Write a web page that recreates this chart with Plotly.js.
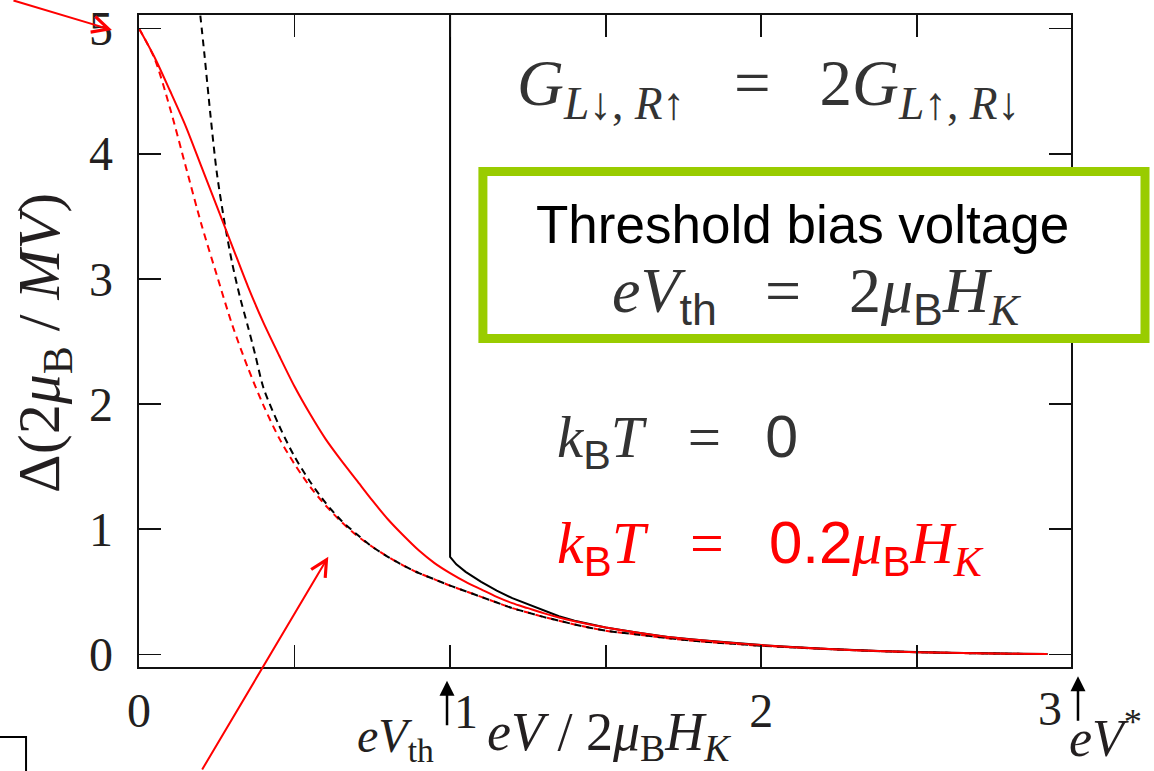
<!DOCTYPE html>
<html><head><meta charset="utf-8">
<script src="https://cdn.plot.ly/plotly-3.0.1.min.js"></script>
<style>html,body{margin:0;padding:0;background:#fff}#chart{width:1154px;height:771px}</style>
</head><body><div id="chart"></div>
<script>
// ---- data ----
const xRedSolid = [0, 0.05, 0.1, 0.15, 0.2, 0.25, 0.3, 0.35, 0.4, 0.45, 0.5, 0.55, 0.6, 0.65, 0.7, 0.75, 0.8, 0.85, 0.9, 0.95, 1.0, 1.05, 1.1, 1.15, 1.2, 1.25, 1.3, 1.35, 1.4, 1.5, 1.6, 1.7, 1.8, 1.9, 2.0, 2.2, 2.4, 2.6, 2.8, 2.92];
const yRedSolid = [5.0, 4.77, 4.50, 4.22, 3.90, 3.58, 3.26, 2.94, 2.65, 2.39, 2.14, 1.92, 1.72, 1.55, 1.39, 1.23, 1.08, 0.95, 0.83, 0.73, 0.65, 0.58, 0.52, 0.46, 0.41, 0.37, 0.33, 0.295, 0.265, 0.215, 0.175, 0.14, 0.115, 0.094, 0.075, 0.045, 0.025, 0.013, 0.006, 0.003];

const xRedDash = [0, 0.05, 0.1, 0.15, 0.2, 0.25, 0.3, 0.35, 0.4, 0.45, 0.5, 0.55, 0.6, 0.65, 0.7, 0.75, 0.8, 0.85, 0.9, 0.95, 1.0, 1.05, 1.1, 1.15, 1.2, 1.25, 1.3, 1.35, 1.4, 1.5, 1.6, 1.7, 1.8, 1.9, 2.0, 2.2, 2.4, 2.6, 2.8, 2.92];
const yRedDash = [5.0, 4.76, 4.36, 3.90, 3.44, 3.03, 2.63, 2.29, 1.99, 1.73, 1.52, 1.34, 1.19, 1.06, 0.95, 0.86, 0.78, 0.71, 0.65, 0.60, 0.55, 0.505, 0.46, 0.415, 0.37, 0.335, 0.30, 0.27, 0.24, 0.19, 0.16, 0.13, 0.105, 0.087, 0.07, 0.045, 0.025, 0.013, 0.006, 0.003];

const xBlackDash = [0.193, 0.21, 0.23, 0.25, 0.275, 0.3, 0.325, 0.35, 0.375, 0.4, 0.45, 0.5, 0.55, 0.6, 0.65, 0.7, 0.75, 0.8, 0.85, 0.9, 0.95, 1.0, 1.05, 1.1, 1.15, 1.2, 1.25, 1.3, 1.35, 1.4, 1.5, 1.6, 1.7, 1.8, 1.9, 2.0, 2.2, 2.4, 2.6, 2.8, 2.92];
const yBlackDash = [5.2, 4.8, 4.3, 3.85, 3.45, 3.12, 2.85, 2.62, 2.38, 2.13, 1.83, 1.58, 1.38, 1.21, 1.07, 0.96, 0.86, 0.78, 0.71, 0.65, 0.60, 0.55, 0.505, 0.46, 0.415, 0.37, 0.335, 0.30, 0.27, 0.24, 0.19, 0.16, 0.13, 0.105, 0.087, 0.07, 0.045, 0.025, 0.013, 0.006, 0.003];

const xBlackSolid = [1.0, 1.0, 1.02, 1.05, 1.1, 1.15, 1.2, 1.25, 1.3, 1.35, 1.4, 1.5, 1.6, 1.7, 1.8, 1.9, 2.0, 2.2, 2.4, 2.6, 2.8, 2.92];
const yBlackSolid = [5.3, 0.78, 0.72, 0.66, 0.58, 0.51, 0.45, 0.40, 0.35, 0.305, 0.27, 0.215, 0.175, 0.14, 0.115, 0.094, 0.075, 0.045, 0.025, 0.013, 0.006, 0.003];

const yTickVals = [0, 1, 2, 3, 4, 5];
const yTickText = ['0', '1', '2', '3', '4', '5'];
const xTickVals = [0, 0.5, 1, 1.5, 2, 2.5];
const xTickText = ['0', '', '', '', '2', ''];

// ---- styles ----
const SERIF = "'Liberation Serif', 'Times New Roman', serif";
const SANS = "'Liberation Sans', Arial, sans-serif";
const INK = '#231f20';
const MATH = '#333333';
const sf = (t) => `<span style="font-family:${SANS}">${t}</span>`;
const SP = '\u00a0';
const EQ = SP + SP + SP + '=' + SP + SP + SP;

const traces = [
  {x: xRedDash, y: yRedDash, mode: 'lines', line: {color: '#ff0000', width: 2, dash: '7px,5px', shape: 'spline', smoothing: 0.8}, name: 'kBT=0.2 (dashed)', hoverinfo: 'skip'},
  {x: xBlackDash, y: yBlackDash, mode: 'lines', line: {color: '#000000', width: 2, dash: '7px,5px', shape: 'spline', smoothing: 0.8}, name: 'kBT=0 (dashed)', hoverinfo: 'skip'},
  {x: xBlackSolid, y: yBlackSolid, mode: 'lines', line: {color: '#000000', width: 2}, name: 'kBT=0', hoverinfo: 'skip'},
  {x: xRedSolid, y: yRedSolid, mode: 'lines', line: {color: '#ff0000', width: 2, shape: 'spline', smoothing: 0.8}, name: 'kBT=0.2', hoverinfo: 'skip'}
];

function ann(o) { return Object.assign({xref: 'paper', yref: 'paper', xanchor: 'center', yanchor: 'middle', showarrow: false}, o); }

const layout = {
  width: 1154, height: 771,
  margin: {l: 139, r: 83, t: 15, b: 104},
  paper_bgcolor: '#ffffff', plot_bgcolor: '#ffffff',
  showlegend: false,
  xaxis: {
    range: [0, 2.996], tickmode: 'array', tickvals: xTickVals, ticktext: xTickText,
    ticks: 'inside', ticklen: 22, tickwidth: 1.8, tickcolor: '#111',
    showline: true, linewidth: 2.4, linecolor: '#111', mirror: 'ticks',
    showgrid: false, zeroline: false, ticklabelstandoff: 0,
    tickfont: {family: SERIF, size: 48, color: INK}
  },
  yaxis: {
    range: [-0.1, 5.107], tickmode: 'array', tickvals: yTickVals, ticktext: yTickText,
    ticks: 'inside', ticklen: 22, tickwidth: 1.8, tickcolor: '#111',
    showline: true, linewidth: 2.4, linecolor: '#111', mirror: 'ticks',
    showgrid: false, zeroline: false, ticklabelstandoff: 14,
    tickfont: {family: SERIF, size: 48, color: INK}
  },
  shapes: [
    {type: 'rect', xref: 'paper', yref: 'paper', x0: 0.369, x1: 1.0794, y0: 0.504, y1: 0.760,
     line: {color: '#99cc00', width: 9}, fillcolor: '#ffffff', layer: 'above'},
    {type: 'path', xref: 'paper', yref: 'paper', path: 'M -0.16,-0.1074 L -0.1212,-0.1074 L -0.1212,-0.17',
     line: {color: '#000', width: 2}}
  ],
  annotations: [
    // axis titles
    ann({x: -0.102, y: 0.497, textangle: -90,
     text: 'Δ(2<i>μ</i><sub>B</sub> / <i>MV</i>)', font: {family: SERIF, size: 60, color: INK}}),
    ann({x: 0.504, y: -0.105,
     text: '<i>eV</i> / 2<i>μ</i><sub>B</sub><i>H</i><sub><i>K</i></sub>', font: {family: SERIF, size: 54, color: INK}}),
    // tick labels beside the arrows
    ann({x: 0.3509, y: -0.0675, text: '1', font: {family: SERIF, size: 48, color: INK}}),
    ann({x: 0.9775, y: -0.063, text: '3', font: {family: SERIF, size: 48, color: INK}}),
    ann({x: 0.3305, y: -0.021, ax: 0, ay: 46, text: '', showarrow: true,
     arrowhead: 2, arrowsize: 1.2, arrowwidth: 2.5, arrowcolor: '#000', standoff: 0}),
    ann({x: 1.0075, y: -0.014, ax: 0, ay: 46, text: '', showarrow: true,
     arrowhead: 2, arrowsize: 1.2, arrowwidth: 2.5, arrowcolor: '#000', standoff: 0}),
    ann({x: 0.2747, y: -0.111, text: '<i>eV</i><sub>th</sub>', font: {family: SERIF, size: 48, color: INK}}),
    ann({x: 1.0365, y: -0.104, text: '<i>eV</i><sup>*</sup>', font: {family: SERIF, size: 52, color: INK}}),
    // in-plot texts
    ann({x: 0.4034, y: 0.888, xanchor: 'left',
     text: '<i>G</i><sub><i>L</i>↓,' + SP + '<i>R</i>↑</sub>' + EQ + '2<i>G</i><sub><i>L</i>↑,' + SP + '<i>R</i>↓</sub>', font: {family: SERIF, size: 65, color: MATH}}),
    ann({x: 0.7124, y: 0.679,
     text: 'Threshold bias voltage', font: {family: SANS, size: 53, color: '#000'}}),
    ann({x: 0.5054, y: 0.5706, xanchor: 'left',
     text: '<i>eV</i><sub>' + sf('th') + '</sub>' + EQ + '2<i>μ</i><sub>' + sf('B') + '</sub><i>H</i><sub><i>K</i></sub>', font: {family: SERIF, size: 64, color: MATH}}),
    ann({x: 0.4464, y: 0.346, xanchor: 'left',
     text: '<i>k</i><sub>' + sf('B') + '</sub><i>T</i>' + EQ + sf('0'), font: {family: SERIF, size: 59, color: MATH}}),
    ann({x: 0.4464, y: 0.184, xanchor: 'left',
     text: '<i>k</i><sub>' + sf('B') + '</sub><i>T</i>' + EQ + sf('0.2') + '<i>μ</i><sub>' + sf('B') + '</sub><i>H</i><sub><i>K</i></sub>', font: {family: SERIF, size: 60, color: '#ff0000'}}),
    // red pointer arrows
    ann({x: -0.029, y: 0.977, ax: -100, ay: -42, text: '', showarrow: true,
     arrowhead: 5, arrowsize: 1.6, arrowwidth: 2, arrowcolor: '#ff0000', standoff: 0}),
    ann({x: 0.2031, y: 0.1692, ax: -127, ay: 230, text: '', showarrow: true,
     arrowhead: 5, arrowsize: 1.6, arrowwidth: 2, arrowcolor: '#ff0000', standoff: 0})
  ]
};

Plotly.newPlot('chart', traces, layout, {displayModeBar: false, staticPlot: true});
</script></body></html>
